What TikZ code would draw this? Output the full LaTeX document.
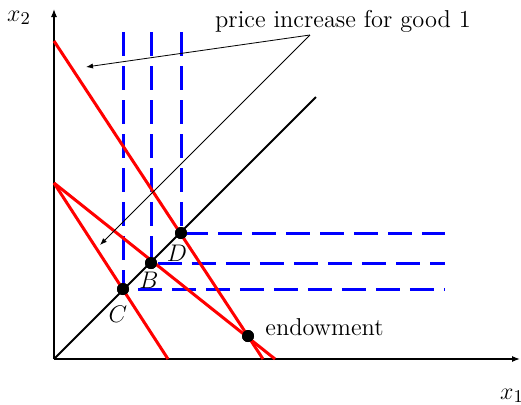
\documentclass[tikz,border=0pt]{standalone}
\usetikzlibrary{arrows.meta}
\begin{document}
\begin{tikzpicture}[x=0.5pt,y=-0.5pt,
  axis/.style={line width=0.6pt,-{Latex[length=4pt,width=3pt]}},
  budget/.style={red,line width=1.5pt},
  leontief/.style={blue,line width=1.5pt,dash pattern=on 12pt off 5pt},
  diag/.style={black,line width=1pt},
  note/.style={line width=0.4pt,-{Latex[length=3.5pt,width=2.6pt]}},
  dot/.style={circle,fill=black,inner sep=0pt,minimum size=6pt},
  lbl/.style={inner sep=1pt,font=\fontsize{12.2}{14}\selectfont}]
\useasboundingbox (0,0) rectangle (521,404);
% coordinates
\coordinate (O) at (54,359);
\coordinate (ytop) at (54,9);
\coordinate (xend) at (520,359);
\coordinate (dend) at (316,97);
\coordinate (a0) at (54,41);
\coordinate (a1) at (263,359);
\coordinate (b0) at (54,183);
\coordinate (b1) at (275,359);
\coordinate (c1) at (168,359);
\coordinate (vC) at (123,32);
\coordinate (vB) at (151,32);
\coordinate (vD) at (181,32);
\coordinate (hC) at (445,289);
\coordinate (hB) at (445,263);
\coordinate (hD) at (445,233);
\coordinate (t1) at (86,67);
\coordinate (t2) at (100,245);
% axes
\draw[axis] (O) -- (xend);
\draw[axis] (O) -- (ytop);
\node[lbl] (x2) at (19,18) {$x_2$};
\node[lbl] (x1) at (512,396) {$x_1$};
% diagonal
\draw[diag] (O) -- (dend);
% points
\node[dot] (C) at (123,289) {};
\node[dot] (B) at (151,263) {};
\node[dot] (D) at (181,233) {};
\node[dot] (E) at (248,336) {};
% leontief curves
\draw[leontief] (vC) -- (C.center) -- (hC);
\draw[leontief] (vB) -- (B.center) -- (hB);
\draw[leontief] (vD) -- (D.center) -- (hD);
% budget lines
\draw[budget] (a0) -- (a1);
\draw[budget] (b0) -- (b1);
\draw[budget] (b0) -- (c1);
% redraw dots on top
\node[dot] at (C) {};
\node[dot] at (B) {};
\node[dot] at (D) {};
\node[dot] at (E) {};
% labels
\node[lbl] (Cl) at (118,314) {$C$};
\node[lbl] (Bl) at (149,280) {$B$};
\node[lbl] (Dl) at (177,253) {$D$};
\node[lbl,anchor=west] (endow) at (263,327) {endowment};
\node[lbl] (price) at (343,21) {price increase for good 1};
\coordinate (ps) at (310,35);
\draw[note] (ps) -- (t1);
\draw[note] (ps) -- (t2);
\end{tikzpicture}
\end{document}
